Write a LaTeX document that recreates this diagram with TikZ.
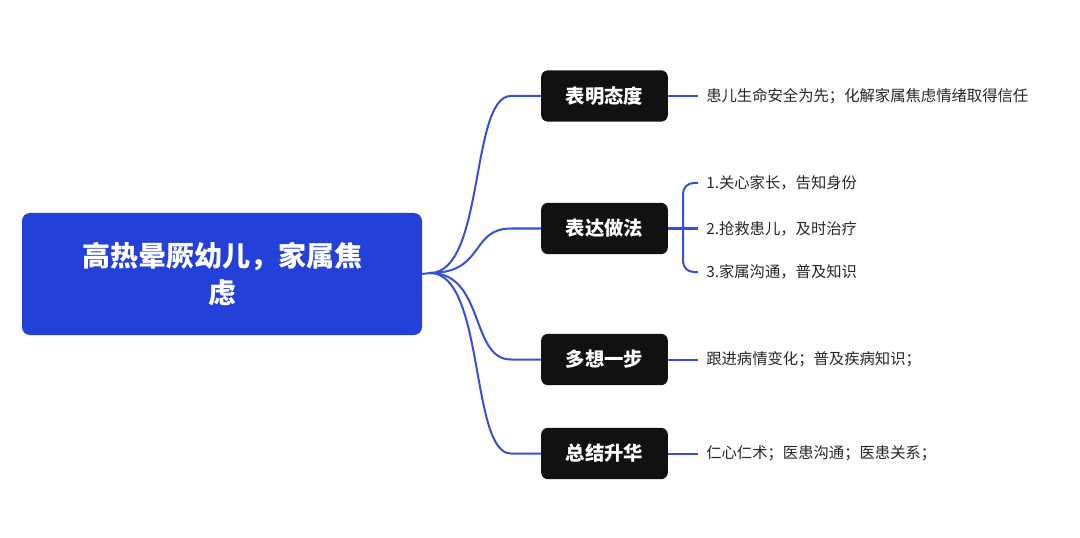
\documentclass[tikz,border=0pt]{standalone}
\usepackage{fontspec}
\usetikzlibrary{calc}
\setmainfont{Noto Sans CJK SC}
\definecolor{rootblue}{HTML}{2340D8}
\definecolor{lineblue}{HTML}{3550D6}
\definecolor{boxblack}{HTML}{111111}
\begin{document}
\begin{tikzpicture}[x=0.75pt,y=-0.75pt,
  rootbox/.style={fill=rootblue,rounded corners=6pt,inner sep=0,minimum width=300pt,minimum height=91.5pt,text=white,font=\bfseries\fontsize{21}{28}\selectfont,align=center,text width=270pt},
  brbox/.style={fill=boxblack,rounded corners=5pt,inner sep=0,minimum width=95pt,minimum height=38.5pt,text=white,font=\bfseries\fontsize{14.5}{17}\selectfont},
  leaf/.style={anchor=west,inner sep=0,font=\fontsize{11.5}{14}\selectfont,text=black!85},
  conn/.style={draw=lineblue,line width=1.5pt}]
\useasboundingbox (0,0) rectangle (1080,538);
\node[rootbox] (root) at (222,274) {高热晕厥幼儿，家属焦\\虑};
\coordinate (hub) at (430,273);
\node[brbox] (b1) at (604.5,96) {表明态度};
\node[brbox] (b2) at (604.5,228.5) {表达做法};
\node[brbox] (b3) at (604.5,359.5) {多想一步};
\node[brbox] (b4) at (604.5,453.5) {总结升华};
\draw[conn] (root.east) -- (hub);
\foreach \b in {b1,b2,b3,b4}{
  \draw[conn] (hub) .. controls ($(hub)+(55,0)$) and ($(hub|-\b.west)+(40,0)$) .. ($(\b.west)+(-30,0)$) -- (\b.west);
}
\node[leaf] (l1) at (706,96) {患儿生命安全为先；化解家属焦虑情绪取得信任};
\node[leaf] (l21) at (706,183) {1.关心家长，告知身份};
\node[leaf] (l22) at (706,228.5) {2.抢救患儿，及时治疗};
\node[leaf] (l23) at (706,272) {3.家属沟通，普及知识};
\node[leaf] (l3) at (706,359.5) {跟进病情变化；普及疾病知识；};
\node[leaf] (l4) at (706,453.5) {仁心仁术；医患沟通；医患关系；};
\draw[conn] (b1.east) -- ($(l1.west)+(-8,0)$);
\draw[conn] (b3.east) -- ($(l3.west)+(-8,0)$);
\draw[conn] (b4.east) -- ($(l4.west)+(-8,0)$);
\coordinate (j) at (683,228.5);
\draw[conn] (b2.east) -- ($(l22.west)+(-8,0)$);
\draw[conn,rounded corners=8pt] (j) -- (j|-l21.west) -- ($(l21.west)+(-8,0)$);
\draw[conn,rounded corners=8pt] (j) -- (j|-l23.west) -- ($(l23.west)+(-8,0)$);
\end{tikzpicture}
\end{document}
